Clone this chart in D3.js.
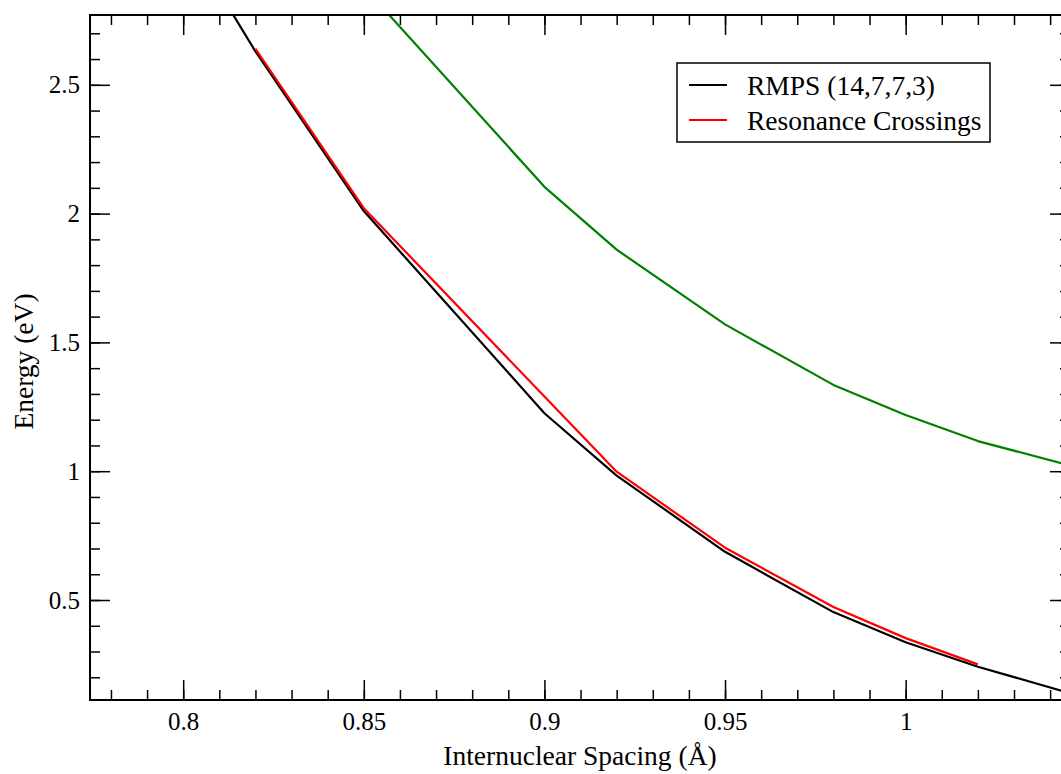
<!DOCTYPE html>
<html>
<head>
<meta charset="utf-8">
<script src="https://cdn.jsdelivr.net/npm/d3@7"></script>
<style>
  body { margin: 0; background: #fff; }
  svg { display: block; font-family: "Liberation Serif", "Times New Roman", serif; }
</style>
</head>
<body>
<div class="container"></div>
<script>
// data (spacing in Angstrom, energy in eV)
var rmpsX = [0.80, 0.82, 0.85, 0.90, 0.92, 0.95, 0.98, 1.00, 1.02, 1.05];
var rmpsY = [3.09, 2.63, 2.01, 1.225, 0.983, 0.687, 0.453, 0.336, 0.241, 0.12];

var crossX = [0.82, 0.85, 0.90, 0.92, 0.95, 0.98, 1.00, 1.02];
var crossY = [2.64, 2.021, 1.29, 0.998, 0.703, 0.473, 0.352, 0.25];

var greenX = [0.85, 0.90, 0.92, 0.95, 0.98, 1.00, 1.02, 1.05];
var greenY = [2.88, 2.104, 1.86, 1.57, 1.335, 1.218, 1.117, 1.005];

var xTicks = [0.8, 0.85, 0.9, 0.95, 1];
var xTickLabels = ["0.8", "0.85", "0.9", "0.95", "1"];
var yTicks = [0.5, 1, 1.5, 2, 2.5];
var yTickLabels = ["0.5", "1", "1.5", "2", "2.5"];

var legendNames = ["RMPS (14,7,7,3)", "Resonance Crossings"];
var legendColors = ["#000000", "#ff0000"];

function ChartSVG() {
  var width = 1061, height = 774;
  var left = 90, right = 1070, top = 15, bottom = 700;

  const svg = d3.select(".container").append("svg")
    .attr("width", width)
    .attr("height", height);

  var x = d3.scaleLinear().domain([0.7742, 1.0455]).range([left, right]);
  var y = d3.scaleLinear().domain([0.1118, 2.771]).range([bottom, top]);

  // clip for the curves
  svg.append("defs").append("clipPath").attr("id", "plotClip")
    .append("rect")
    .attr("x", left).attr("y", top)
    .attr("width", right - left).attr("height", bottom - top);

  var minorX = d3.range(78, 105).map(function (d) { return d / 100; });
  var minorY = d3.range(2, 28).map(function (d) { return d / 10; });

  // axes: bottom and top with minor ticks
  var bottomAxis = d3.axisBottom(x).tickValues(xTicks)
    .tickFormat(function (d, i) { return xTickLabels[i]; })
    .tickSize(-20).tickPadding(12);
  var bottomMinor = d3.axisBottom(x).tickValues(minorX).tickFormat("").tickSize(-10);
  var topAxis = d3.axisTop(x).tickValues(xTicks).tickFormat("").tickSize(-20);
  var topMinor = d3.axisTop(x).tickValues(minorX).tickFormat("").tickSize(-10);

  var leftAxis = d3.axisLeft(y).tickValues(yTicks)
    .tickFormat(function (d, i) { return yTickLabels[i]; })
    .tickSize(-20).tickPadding(10);
  var leftMinor = d3.axisLeft(y).tickValues(minorY).tickFormat("").tickSize(-10);
  var rightAxis = d3.axisRight(y).tickValues(yTicks).tickFormat("").tickSize(-20);
  var rightMinor = d3.axisRight(y).tickValues(minorY).tickFormat("").tickSize(-10);

  function addAxis(ax, tx, ty) {
    var g = svg.append("g").attr("transform", "translate(" + tx + "," + ty + ")").call(ax);
    g.select(".domain").remove();
    g.selectAll(".tick line").attr("stroke", "#000").attr("stroke-width", 1.5);
    g.selectAll(".tick text")
      .attr("fill", "#000")
      .style("font-size", "25px")
      .style("font-family", "'Liberation Serif', 'Times New Roman', serif");
    return g;
  }

  var xLab = addAxis(bottomAxis, 0, bottom);
  addAxis(bottomMinor, 0, bottom);
  addAxis(topAxis, 0, top);
  addAxis(topMinor, 0, top);
  addAxis(leftAxis, left, 0);
  addAxis(leftMinor, left, 0);
  addAxis(rightAxis, right, 0);
  addAxis(rightMinor, right, 0);

  xLab.selectAll(".tick text").attr("dy", "0.71em");

  // curves
  var line = d3.line()
    .x(function (d) { return x(d[0]); })
    .y(function (d) { return y(d[1]); });

  var series = [
    { pts: d3.zip(greenX, greenY), color: "#008000" },
    { pts: d3.zip(rmpsX, rmpsY), color: "#000000" },
    { pts: d3.zip(crossX, crossY), color: "#ff0000" }
  ];

  svg.append("g")
    .attr("clip-path", "url(#plotClip)")
    .selectAll("path")
    .data(series)
    .join("path")
    .attr("d", function (d) { return line(d.pts); })
    .attr("fill", "none")
    .attr("stroke", function (d) { return d.color; })
    .attr("stroke-width", 2.2)
    .attr("stroke-linejoin", "round");

  // frame
  svg.append("rect")
    .attr("x", left).attr("y", top)
    .attr("width", right - left).attr("height", bottom - top)
    .attr("fill", "none")
    .attr("stroke", "#000")
    .attr("stroke-width", 2);

  // axis titles
  svg.append("text")
    .attr("x", 580)
    .attr("y", 765)
    .attr("text-anchor", "middle")
    .style("font-size", "27.5px")
    .text("Internuclear Spacing (Å)");

  svg.append("text")
    .attr("transform", "translate(33," + ((top + bottom) / 2 + 4) + ") rotate(-90)")
    .attr("text-anchor", "middle")
    .style("font-size", "27.5px")
    .text("Energy (eV)");

  // legend
  var lg = svg.append("g").attr("transform", "translate(677,63)");
  lg.append("rect")
    .attr("width", 313).attr("height", 79)
    .attr("fill", "#fff")
    .attr("stroke", "#000")
    .attr("stroke-width", 1.5);

  var item = lg.selectAll("g.item")
    .data(legendNames)
    .join("g")
    .attr("class", "item")
    .attr("transform", function (d, i) { return "translate(0," + (22 + i * 35) + ")"; });

  item.append("line")
    .attr("x1", 12).attr("x2", 50)
    .attr("stroke", function (d, i) { return legendColors[i]; })
    .attr("stroke-width", 2);

  item.append("text")
    .attr("x", 70)
    .attr("dy", "0.35em")
    .style("font-size", "27.5px")
    .text(function (d) { return d; });
}

ChartSVG();
</script>
</body>
</html>
